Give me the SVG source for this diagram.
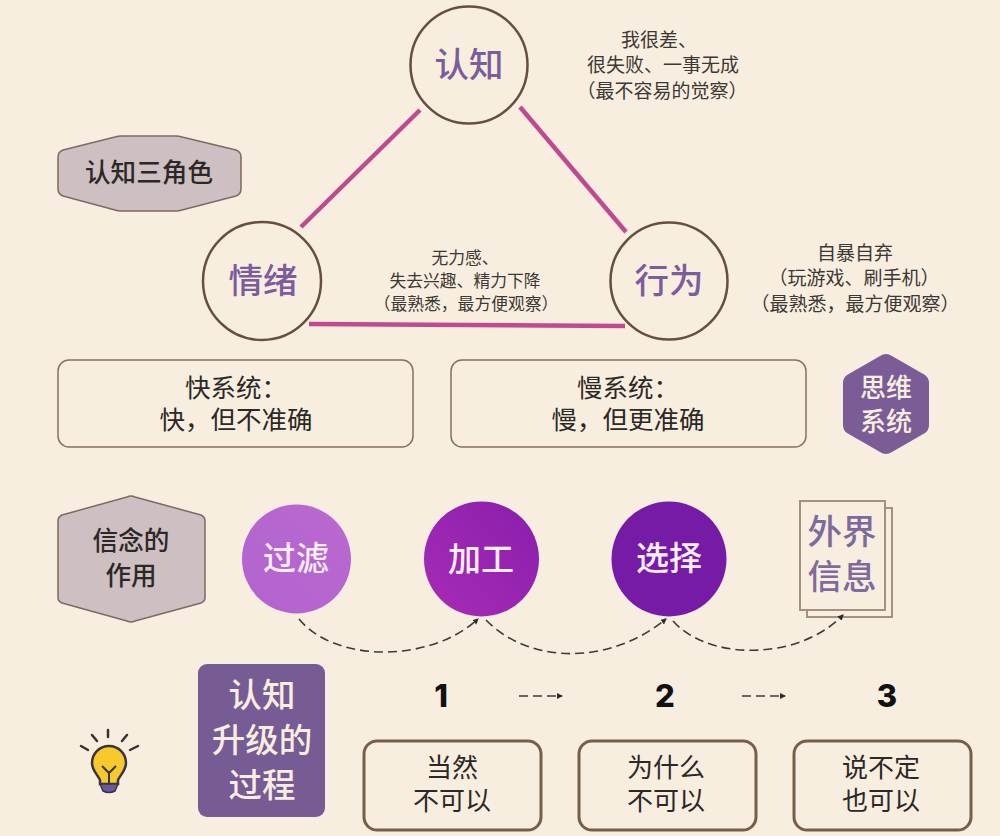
<svg xmlns="http://www.w3.org/2000/svg" width="1000" height="836" viewBox="0 0 1000 836">
<style>
text{font-family:"Noto Sans CJK SC","Noto Sans",sans-serif;text-anchor:middle;fill:#2b2826}
.ring{fill:#f8eedf;stroke:#65503f;stroke-width:2.500}
.big{font-size:34.500px;font-weight:500;fill:#7b5c9c}
.note{font-size:19px;fill:#3c3835}
.note2{font-size:16.800px;fill:#3c3835}
.box{fill:#f8eedf;stroke:#85715f;stroke-width:1.500}
.box2{fill:#f8eedf;stroke:#775e4a;stroke-width:3}
.t24{font-size:25.500px}
.t26{font-size:26px}
.hex{fill:#cdbfc2;stroke:#7d6a62;stroke-width:1.500;stroke-linejoin:round}
.lab{font-size:25.600px;font-weight:500}
.w{fill:#fbeef7;font-size:33px;font-weight:500}
.cream{fill:#f8eedf;font-weight:500}
.info{fill:#7f6a9c;font-size:34.500px;font-weight:500}
.link{stroke:#c04a90;stroke-width:4.500;fill:none}
.dash{fill:none;stroke:#3d3a3a;stroke-width:1.600;stroke-dasharray:9 5}
.num{font-family:Inter,"Liberation Sans",sans-serif;font-size:31px;font-weight:800;fill:#111}
</style>
<defs>
<marker id="ah" markerWidth="7" markerHeight="7" refX="5" refY="3" orient="auto" markerUnits="userSpaceOnUse"><path d="M0 0L6 3L0 6Z" fill="#2e2b2b"/></marker>
<linearGradient id="g1" x1="0" y1="1" x2="1" y2="0"><stop offset="0" stop-color="#b263cf"/><stop offset="1" stop-color="#b969cf"/></linearGradient>
<linearGradient id="g2" x1="0" y1="1" x2="1" y2="0"><stop offset="0" stop-color="#a72cb4"/><stop offset="1" stop-color="#8a1ead"/></linearGradient>
</defs>
<rect width="1000" height="836" fill="#f8eedf"/>
<g id="renzhi"><circle class="ring" cx="469" cy="65" r="58.500"/><text class="big" x="469" y="77">认知</text></g>
<g id="note-renzhi"><text class="note"><tspan x="659" y="47">我很差、</tspan><tspan x="663" y="72">很失败、一事无成</tspan><tspan x="662" y="98">（最不容易的觉察）</tspan></text></g>
<g id="title"><path class="hex" d="M58 157Q58 152 63 150L115 137Q118 136 121 136H176Q179 136 182 137L236 150Q241 152 241 157V189Q241 194 236 196L182 210Q179 211 176 211H121Q118 211 115 210L63 196Q58 194 58 189Z"/><text class="lab" x="149" y="182">认知三角色</text></g>
<g id="qingxu"><circle class="ring" cx="262" cy="281" r="59"/><text class="big" x="263" y="293">情绪</text></g>
<g id="xingwei"><circle class="ring" cx="669" cy="281" r="58.500"/><text class="big" x="669" y="293">行为</text></g>
<g id="note-qingxu"><text class="note2"><tspan x="465" y="264">无力感、</tspan><tspan x="465" y="287">失去兴趣、精力下降</tspan><tspan x="466" y="310">（最熟悉，最方便观察）</tspan></text></g>
<g id="note-xingwei"><text class="note"><tspan x="855" y="260">自暴自弃</tspan><tspan x="854" y="285">（玩游戏、刷手机）</tspan><tspan x="855" y="311">（最熟悉，最方便观察）</tspan></text></g>
<g id="fast"><rect class="box" x="58" y="360" width="355" height="87" rx="11"/><text class="t24"><tspan x="236" y="397">快系统：</tspan><tspan x="236" y="429">快，但不准确</tspan></text></g>
<g id="slow"><rect class="box" x="451" y="360" width="355" height="87" rx="11"/><text class="t24"><tspan x="628" y="397">慢系统：</tspan><tspan x="628" y="429">慢，但更准确</tspan></text></g>
<g id="siwei"><path d="M880 356Q886 352 892 356L925 375Q929 378 929 383V425Q929 430 925 433L892 452Q886 456 880 452L847 433Q843 430 843 425V383Q843 378 847 375Z" fill="#7b5c97"/><text class="cream" font-size="26"><tspan x="886" y="397">思维</tspan><tspan x="886" y="431">系统</tspan></text></g>
<g id="xinnian"><path class="hex" d="M58 521Q58 517 62 515L127 497Q131 495 135 497L201 515Q205 517 205 521V598Q205 601 201 603L135 621Q131 623 127 621L62 603Q58 601 58 598Z"/><text class="lab"><tspan x="131" y="550">信念的</tspan><tspan x="131" y="585">作用</tspan></text></g>
<g id="guolv"><circle cx="296.500" cy="559" r="54.500" fill="url(#g1)"/><text class="w" x="296" y="570">过滤</text></g>
<g id="jiagong"><circle cx="481.500" cy="559" r="57.500" fill="url(#g2)"/><text class="w" x="481" y="571">加工</text></g>
<g id="xuanze"><circle cx="669" cy="559" r="57.500" fill="#751ba6"/><text class="w" x="669" y="570">选择</text></g>
<g id="info"><rect x="807" y="508" width="85" height="109" fill="#f8eedf" stroke="#a4917f" stroke-width="2"/><rect x="800" y="501" width="85" height="109" fill="#f8eedf" stroke="#a4917f" stroke-width="2"/><text class="info"><tspan x="842" y="544">外界</tspan><tspan x="842" y="589">信息</tspan></text></g>
<g id="bulb">
<path d="M108 730v7M92 735l5 6M127 735l-5 6M81 746l7 4M138 746l-8 4" stroke="#333" stroke-width="2.500" stroke-linecap="round" fill="none"/>
<path d="M109 746c-10 0-17 8-17 17c0 7 5 11 8 17v4h18v-4c3-6 8-10 8-17c0-9-7-17-17-17Z" fill="#f6c92c" stroke="#3a3340" stroke-width="2.500"/>
<path d="M102 766l7 7l7-7M109 773v11" stroke="#3a3340" stroke-width="2" fill="none"/>
<path d="M100 784h18l-3 7q-6 3-12 0Z" fill="#6a5a9c" stroke="#3a3340" stroke-width="1.500"/>
</g>
<g id="process"><rect x="198" y="664" width="127" height="153" rx="9" fill="#775b95"/><text class="cream" font-size="33.500"><tspan x="262" y="707">认知</tspan><tspan x="262" y="752">升级的</tspan><tspan x="262" y="797">过程</tspan></text></g>
<g id="n1"><text class="num" x="441" y="707">1</text></g>
<g id="n2"><text class="num" x="665" y="707">2</text></g>
<g id="n3"><text class="num" x="887" y="707">3</text></g>
<g id="s1"><rect class="box2" x="364" y="741" width="177" height="89" rx="13"/><text class="t26"><tspan x="452" y="777">当然</tspan><tspan x="452" y="810">不可以</tspan></text></g>
<g id="s2"><rect class="box2" x="579" y="741" width="177" height="89" rx="13"/><text class="t26"><tspan x="666" y="777">为什么</tspan><tspan x="666" y="810">不可以</tspan></text></g>
<g id="s3"><rect class="box2" x="794" y="741" width="177" height="89" rx="13"/><text class="t26"><tspan x="881" y="777">说不定</tspan><tspan x="881" y="810">也可以</tspan></text></g>
<g id="connectors">
<path class="link" d="M420 110L301 227"/>
<path class="link" d="M520 107L626 232"/>
<path class="link" d="M309 324L625 326"/>
<path class="dash" d="M299 619C335 663 430 663 478 619" marker-end="url(#ah)"/>
<path class="dash" d="M486 620C530 665 610 665 666 619" marker-end="url(#ah)"/>
<path class="dash" d="M673 621C710 662 800 660 843 615" marker-end="url(#ah)"/>
<path class="dash" d="M519 696H562" marker-end="url(#ah)"/>
<path class="dash" d="M742 696H785" marker-end="url(#ah)"/>
</g>
</svg>
